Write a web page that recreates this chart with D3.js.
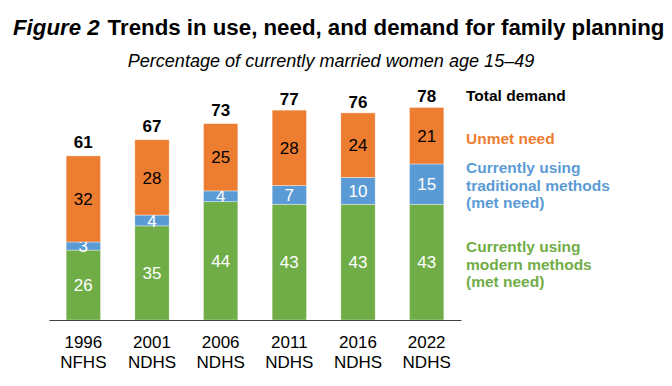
<!DOCTYPE html>
<html><head><meta charset="utf-8">
<script src="https://cdn.jsdelivr.net/npm/d3@7"></script>
<style>
html,body{margin:0;padding:0;background:#fff;}
svg{display:block;font-family:"Liberation Sans",Arial,Helvetica,sans-serif;}
</style></head>
<body>
<svg id="chart" width="672" height="386"></svg>
<script>
const years = ["1996", "2001", "2006", "2011", "2016", "2022"];
const surveys = ["NFHS", "NDHS", "NDHS", "NDHS", "NDHS", "NDHS"];
const modern = [26, 35, 44, 43, 43, 43];
const traditional = [3, 4, 4, 7, 10, 15];
const unmet = [32, 28, 25, 28, 24, 21];
const totalDemand = [61, 67, 73, 77, 76, 78];
const seriesNames = ["modern", "traditional", "unmet"];
const colors = {modern: "#70AD47", traditional: "#5B9BD5", unmet: "#ED7D31"};
const labelColors = {modern: "#ffffff", traditional: "#ffffff", unmet: "#000000"};

const svg = d3.select("#chart");

// Title
const title = svg.append("text").attr("x", 13).attr("y", 35)
  .attr("font-weight", "bold").attr("font-size", 20).attr("fill", "#000");
title.append("tspan").attr("font-style", "italic").text("Figure 2");
title.append("tspan").attr("dx", 8).text("Trends in use, need, and demand for family planning");
{
  const w = title.node().getComputedTextLength();
  title.attr("font-size", 20 * 644 / w);
}
const sub = svg.append("text").attr("x", 331).attr("y", 67).attr("text-anchor", "middle")
  .attr("font-style", "italic").attr("font-size", 15).attr("fill", "#000")
  .text("Percentage of currently married women age 15\u201349");
{
  const w = sub.node().getComputedTextLength();
  sub.attr("font-size", 15 * 407 / w);
}

const data = years.map((y, i) => ({key: y, modern: modern[i], traditional: traditional[i], unmet: unmet[i], total: totalDemand[i]}));

const x = d3.scaleBand().domain(years).range([49, 461]).paddingInner(0.5).paddingOuter(0.25);
const y = d3.scaleLinear().domain([0, 100]).range([320, 51]);

const stack = d3.stack().keys(seriesNames)(data);

const g = svg.append("g");
stack.forEach(layer => {
  const key = layer.key;
  g.selectAll(null).data(layer).join("rect")
    .attr("x", d => x(d.data.key))
    .attr("y", d => y(d[1]))
    .attr("width", x.bandwidth())
    .attr("height", d => y(d[0]) - y(d[1]))
    .attr("fill", colors[key])
    .attr("stroke", "#ffffff").attr("stroke-opacity", 0.45).attr("stroke-width", 0.8);
  g.selectAll(null).data(layer).join("text")
    .attr("x", d => x(d.data.key) + x.bandwidth() / 2)
    .attr("y", d => (y(d[0]) + y(d[1])) / 2)
    .attr("dy", "0.36em")
    .attr("text-anchor", "middle")
    .attr("font-size", 17)
    .attr("fill", labelColors[key])
    .text(d => d.data[key]);
});

// totals
g.selectAll(null).data(data).join("text")
  .attr("x", d => x(d.key) + x.bandwidth() / 2)
  .attr("y", d => y(d.total) - 8)
  .attr("text-anchor", "middle")
  .attr("font-size", 17).attr("font-weight", "bold").attr("fill", "#000")
  .text(d => d.total);

// x axis
const xAxis = svg.append("g").attr("transform", "translate(0,320)")
  .call(d3.axisBottom(x).tickSize(0).tickFormat(""));
xAxis.select(".domain").attr("stroke", "#404040").attr("stroke-width", 1.2);
xAxis.selectAll(".tick").each(function(d, i) {
  const t = d3.select(this).append("text").attr("text-anchor", "middle")
    .attr("font-size", 17).attr("fill", "#000");
  t.append("tspan").attr("x", 0).attr("y", 28).text(years[i]);
  t.append("tspan").attr("x", 0).attr("y", 48).text(surveys[i]);
});

// legend
const legend = [
  {lines: ["Total demand"], color: "#000000", y: 101},
  {lines: ["Unmet need"], color: colors.unmet, y: 144},
  {lines: ["Currently using", "traditional methods", "(met need)"], color: colors.traditional, y: 173},
  {lines: ["Currently using", "modern methods", "(met need)"], color: colors.modern, y: 252}
];
legend.forEach(l => {
  const t = svg.append("text").attr("x", 466).attr("y", l.y)
    .attr("font-size", 15.5).attr("font-weight", "bold").attr("fill", l.color);
  l.lines.forEach((s, i) => t.append("tspan").attr("x", 466).attr("dy", i === 0 ? 0 : 17.7).text(s));
});
</script>
</body></html>
